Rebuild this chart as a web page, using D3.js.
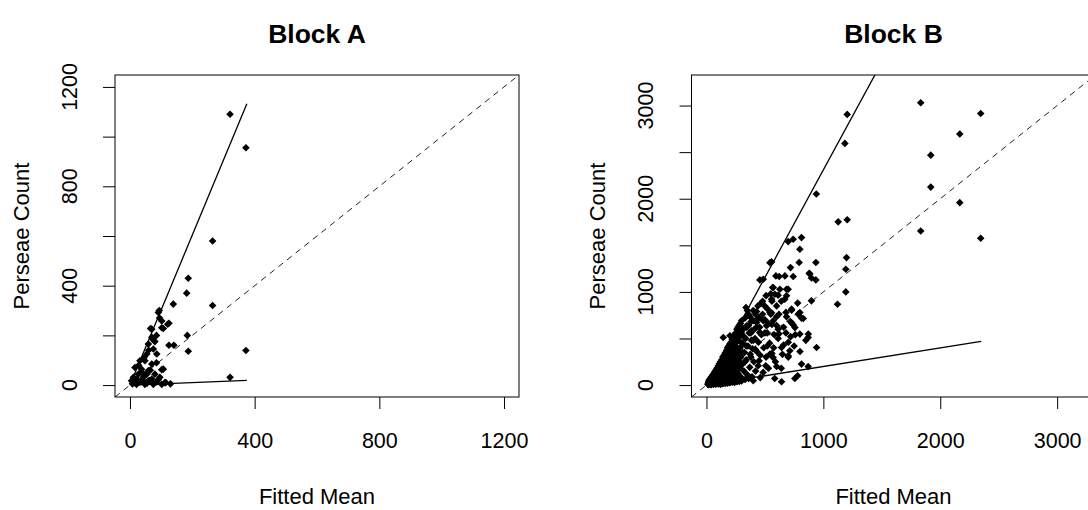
<!DOCTYPE html>
<html>
<head>
<meta charset="utf-8">
<script src="https://d3js.org/d3.v7.min.js"></script>
<style>
  body { margin: 0; background: #fff; }
  svg { display: block; font-family: "Liberation Sans", Arial, sans-serif; }
</style>
</head>
<body>
<svg id="chart" width="1088" height="510"></svg>
<script>
// Block A: [fitted mean, Perseae count]
var blockAPoints = [
  [321,1090],[372,955],[265,580],[187,430],[182,370],[139,326],[265,320],[94,300],[91,292],
  [102,258],[125,249],[121,245],[102,231],[66,228],[107,228],[70,225],[184,200],[70,192],
  [73,184],[80,175],[125,160],[141,160],[59,165],[75,145],[187,136],[372,139],[86,125],
  [54,125],[32,98],[48,98],[70,85],[102,62],[107,64],[16,71],[37,64],[59,58],[27,44],
  [54,44],[80,44],[11,31],[43,31],[96,31],[321,31],[70,24],[5,17],[32,13],[59,17],[86,13],
  [112,10],[21,3],[48,3],[75,3],[102,3],[64,18],[91,22],[38,52],[22,24],[15,10],[28,80],
  [45,110],[60,140],[85,200],[95,270],[115,10],[130,5],[8,5],[40,20],[55,8],[65,60],[85,90]
];

// Block B: [fitted mean, Perseae count]
var blockBPoints = [
  [1204,2905],[1184,2594],[940,2050],[1127,1752],[1204,1775],[1833,3030],[2346,2915],
  [2167,2694],[1919,2468],[1919,2125],[2167,1958],[1833,1654],[2346,1576],
  [813,1583],[742,1565],[699,1540],[799,1458],[557,1322],[793,1315],[936,1315],[719,1261],
  [1198,1368],[1192,1243],[457,1129],[486,1136],[594,1172],[622,1165],[742,1165],[884,1193],
  [898,1150],[936,1129],[571,1047],[685,1029],[613,965],[670,922],[557,922],[898,904],
  [1192,1000],[1121,868],[338,833],[500,847],[728,804],[785,761],[429,790],[557,776],
  [600,733],[685,733],[742,647],[813,719],[372,733],[400,690],[486,690],[571,690],
  [543,1314],[566,1047],[628,1029],[699,1029],[685,958],[585,975],[728,815],[799,779],
  [828,715],[728,668],[757,617],[871,547],[543,779],[879,1200],[671,1172],
  [429,672],[514,636],[613,600],[456,565],[799,547],[870,511],[613,500],[343,636],[385,583],
  [286,600],[201,529],[144,511],[642,404],[713,368],[699,315],[942,404],[544,333],[570,297],
  [507,207],[442,207],[813,225],[485,136],[584,71],[642,36],[756,71],[400,46],
  [12,8],[15,20],[18,35],[20,12],[22,45],[25,28],[28,55],[30,10],[32,40],[35,70],[38,22],
  [40,85],[42,50],[45,15],[48,95],[50,35],[52,70],[55,110],[58,25],[60,55],[62,120],[65,85],
  [68,40],[70,140],[72,18],[75,100],[78,60],[80,160],[82,30],[85,125],[88,75],[90,180],
  [92,45],[95,140],[98,95],[100,205],[102,20],[105,160],[108,60],[110,230],[112,115],
  [115,35],[118,180],[120,250],[122,85],[125,140],[128,200],[130,270],[132,50],[135,110],
  [138,230],[140,300],[142,160],[145,25],[148,70],[150,320],[152,200],[155,260],[158,120],
  [160,345],[162,45],[165,180],[168,290],[170,90],[172,370],[175,230],[178,140],[180,400],
  [182,60],[185,320],[188,190],[190,420],[192,110],[195,260],[198,350],[200,440],[202,35],
  [205,160],[208,300],[210,460],[212,80],[215,220],[218,380],[220,490],[222,130],[225,270],
  [228,420],[230,510],[232,55],[235,180],[238,330],[240,540],[242,100],[245,250],[248,450],
  [250,560],[252,150],[255,380],[258,300],[260,600],[262,70],[265,210],[268,480],[270,620],
  [272,120],[275,350],[278,260],[280,640],[282,520],[285,180],[288,400],[290,660],[292,90],
  [295,300],[298,560],[300,690],[305,220],[310,450],[315,600],[320,150],[325,350],[330,720],
  [335,500],[340,270],[345,620],[350,110],[355,420],[360,760],[365,560],[370,190],[375,330],
  [380,680],[385,480],[390,90],[395,390],[400,800],[405,250],[410,600],[415,500],[420,150],
  [425,700],[430,360],[440,850],[445,460],[450,260],[455,620],[460,80],[470,540],[480,900],
  [490,400],[500,700],[510,300],[520,560],[530,180],[540,450],[550,980],[560,650],[575,400],
  [590,250],[600,850],[620,550],[640,180],[660,430],[680,780],[700,300],[720,520],[750,420],
  [780,100],[800,360],[850,480],[870,200],
  [20,3],[40,5],[60,8],[80,10],[100,12],[120,8],[140,15],[160,18],[180,20],[200,25],[220,30],
  [240,28],[260,35],[280,40],[300,45],[330,60],[360,70],[25,60],[35,15],[55,45],[65,25],
  [75,15],[85,50],[95,30],[105,90],[115,70],[125,30],[135,170],[145,90],[155,60],[165,130],
  [175,80],[185,250],[195,180],[205,100],[215,330],[225,200],[235,420],[245,340],[255,500],
  [265,400],[275,560],[285,470],
  [320,520],[340,420],[360,640],[380,560],[400,480],[420,760],[430,620],[450,720],[460,560],
  [470,880],[480,760],[500,560],[510,960],[520,820],[530,660],[550,760],[560,900],[580,540],
  [600,640],[620,760],[640,900],[660,620],[680,560],[700,460],[720,680],[760,540],[780,880],
  [350,800],[300,600],[310,350],[330,250],[380,300],[420,380],[460,320],[520,420],[560,340],
  [600,200],[650,330]
];

// fitted lines through the origin: [slope, x start, x end]
var blockAFits = [[3.02, 2, 375], [0.05, 2, 375]];
var blockBFits = [[2.31, 5, 2346], [0.2, 5, 2350]];

// axis ticks (labels only on every other one, like R does when they crowd)
var blockATicksX = [0, 400, 800, 1200];
var blockATicksY = [0, 200, 400, 600, 800, 1000, 1200];
var blockALabelsY = [0, 400, 800, 1200];
var blockBTicksX = [0, 1000, 2000, 3000];
var blockBTicksY = [0, 500, 1000, 1500, 2000, 2500, 3000];
var blockBLabelsY = [0, 1000, 2000, 3000];

var titles = ["Block A", "Block B"];
var xTitle = "Fitted Mean";
var yTitle = "Perseae Count";

var svg = d3.select("#chart");
var plotTop = 75, h = 322, w = 404;
var fs = 21.5;

function drawPanel(id, left, lim, points, fits, ticksX, ticksY, labelsY, title) {
  var pad = (lim[1] - lim[0]) * 0.04;
  var x = d3.scaleLinear().domain([lim[0] - pad, lim[1] + pad]).range([left, left + w]);
  var y = d3.scaleLinear().domain([lim[0] - pad, lim[1] + pad]).range([plotTop + h, plotTop]);

  svg.append("clipPath").attr("id", "clip" + id)
    .append("rect").attr("x", left).attr("y", plotTop).attr("width", w).attr("height", h);

  var g = svg.append("g");
  var plot = g.append("g").attr("clip-path", "url(#clip" + id + ")");

  // 1:1 reference line
  plot.append("line")
    .attr("x1", x(lim[0] - pad)).attr("y1", y(lim[0] - pad))
    .attr("x2", x(lim[1] + pad)).attr("y2", y(lim[1] + pad))
    .attr("stroke", "#222").attr("stroke-width", 1)
    .attr("stroke-dasharray", "6,5");

  var r = 3.8;
  plot.selectAll(".pt").data(points).enter().append("path")
    .attr("class", "pt")
    .attr("transform", d => "translate(" + x(d[0]) + "," + y(d[1]) + ")")
    .attr("d", "M0," + (-r) + "L" + r + ",0L0," + r + "L" + (-r) + ",0Z")
    .attr("fill", "#000");

  plot.selectAll(".fit").data(fits).enter().append("line")
    .attr("x1", d => x(d[1])).attr("y1", d => y(d[0] * d[1]))
    .attr("x2", d => x(d[2])).attr("y2", d => y(d[0] * d[2]))
    .attr("stroke", "#000").attr("stroke-width", 1.3);

  g.append("rect")
    .attr("x", left).attr("y", plotTop).attr("width", w).attr("height", h)
    .attr("fill", "none").attr("stroke", "#000").attr("stroke-width", 1);

  // x axis
  var xa = g.append("g").attr("transform", "translate(0," + (plotTop + h) + ")")
    .call(d3.axisBottom(x).tickValues(ticksX).tickSize(12).tickPadding(24).tickFormat(d3.format("d")));
  xa.select(".domain").remove();
  xa.selectAll("line").attr("stroke", "#000");
  xa.selectAll("text").attr("font-size", fs).attr("font-family", "Liberation Sans, Arial, sans-serif").attr("fill", "#000");

  // y axis
  var ya = g.append("g").attr("transform", "translate(" + left + ",0)")
    .call(d3.axisLeft(y).tickValues(ticksY).tickSize(12).tickFormat(""));
  ya.select(".domain").remove();
  ya.selectAll("line").attr("stroke", "#000");
  g.selectAll(".ylab").data(labelsY).enter().append("text")
    .attr("transform", d => "translate(" + (left - 46) + "," + y(d) + ") rotate(-90)")
    .attr("text-anchor", "middle").attr("dy", "0.35em")
    .attr("font-size", fs).text(d => d);

  g.append("text")
    .attr("x", left + w / 2).attr("y", 504)
    .attr("text-anchor", "middle").attr("font-size", fs + 0.5).text(xTitle);
  g.append("text")
    .attr("transform", "translate(" + (left - 94) + "," + (plotTop + h / 2) + ") rotate(-90)")
    .attr("text-anchor", "middle").attr("dy", "0.35em")
    .attr("font-size", fs + 0.5).text(yTitle);
  g.append("text")
    .attr("x", left + w / 2).attr("y", 43)
    .attr("text-anchor", "middle").attr("font-size", 26.5).attr("font-weight", "bold").text(title);
}

drawPanel("A", 115, [0, 1200], blockAPoints, blockAFits, blockATicksX, blockATicksY, blockALabelsY, titles[0]);
drawPanel("B", 691.5, [0, 3200], blockBPoints, blockBFits, blockBTicksX, blockBTicksY, blockBLabelsY, titles[1]);
</script>
</body>
</html>
